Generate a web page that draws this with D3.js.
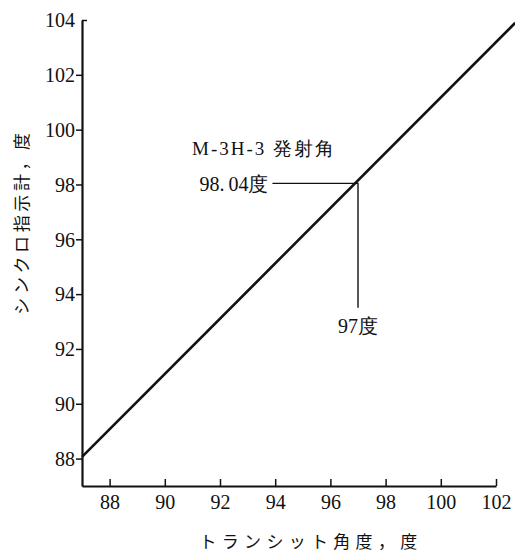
<!DOCTYPE html>
<html lang="ja">
<head>
<meta charset="utf-8">
<title>シンクロ指示計</title>
<style>
  body { margin: 0; background: #fff; }
  svg { display: block; }
</style>
</head>
<body>
<svg width="515" height="555"></svg>

<script src="https://cdn.jsdelivr.net/npm/d3@7/dist/d3.min.js"></script>
<script>
// values
var xTicks = [88, 90, 92, 94, 96, 98, 100, 102];
var yTicks = [88, 90, 92, 94, 96, 98, 100, 102, 104];
var lineX = [87, 102.7];      // transit angle, deg
var lineY = [88.06, 103.9];   // synchro reading, deg
var markX = [97];
var markY = [98.04];
var leaderFromX = [93.9];     // where the horizontal leader starts
var leaderToY = [93.5];       // where the vertical leader stops

var serif = "Liberation Serif";
var cjk = "Noto Sans CJK JP";

var svg = d3.select("svg");

var x = d3.scaleLinear().domain([87, 102]).range([82, 496]);
var y = d3.scaleLinear().domain([87, 104]).range([486, 20]);

// x axis, ticks point up into the plot
var gx = svg.append("g")
    .attr("transform", "translate(0," + y(87) + ")")
    .call(d3.axisBottom(x).tickValues(xTicks).tickSize(-7).tickSizeOuter(0).tickPadding(9));

// y axis, ticks point out, except the top one
var gy = svg.append("g")
    .attr("transform", "translate(" + x(87) + ",0)")
    .call(d3.axisLeft(y).tickValues(yTicks).tickSize(6).tickSizeOuter(0).tickPadding(1));

gx.attr("font-family", serif).attr("font-size", 20);
gy.attr("font-family", serif).attr("font-size", 20);

gy.selectAll(".tick").filter(function(d) { return d == 104; })
    .select("line").attr("x2", 5);

svg.selectAll(".domain").attr("stroke", "#111").attr("stroke-width", 2.2);
svg.selectAll(".tick line").attr("stroke", "#111").attr("stroke-width", 1.5);
svg.selectAll(".tick text").attr("fill", "#111");
gy.selectAll(".tick text").attr("dy", "0.34em");

// main calibration line
var pts = lineX.map(function(v, i) { return [v, lineY[i]]; });
svg.append("path")
    .datum(pts)
    .attr("fill", "none")
    .attr("stroke", "#111")
    .attr("stroke-width", 2.6)
    .attr("d", d3.line().x(function(d) { return x(d[0]); }).y(function(d) { return y(d[1]); }));

// launch-angle annotation
var mx = x(markX[0]), my = y(markY[0]);
svg.append("path")
    .attr("fill", "none")
    .attr("stroke", "#111")
    .attr("stroke-width", 1.4)
    .attr("d", "M" + x(leaderFromX[0]) + "," + my + "H" + mx + "V" + y(leaderToY[0]));

var notes = svg.append("g")
    .attr("font-family", serif)
    .attr("font-size", 20)
    .attr("fill", "#111");

notes.append("text")
    .attr("x", x(leaderFromX[0]) - 4)
    .attr("y", my + 8)
    .attr("text-anchor", "end")
    .text("98.\u200904度");

notes.append("text")
    .attr("x", 192)
    .attr("y", 155)
    .attr("font-size", 19)
    .attr("letter-spacing", 2)
    .text("M-3H-3 発射角");

notes.append("text")
    .attr("x", mx)
    .attr("y", y(leaderToY[0]) + 25)
    .attr("text-anchor", "middle")
    .text("97度");

// axis titles
var titles = svg.append("g")
    .attr("font-family", cjk)
    .attr("font-size", 17)
    .attr("fill", "#111");

titles.append("text")
    .attr("x", (x(87) + x(102)) / 2 + 22)
    .attr("y", 548)
    .attr("text-anchor", "middle")
    .attr("letter-spacing", 5.3)
    .text("トランシット角度，度");

titles.append("text")
    .attr("transform", "translate(28," + 222 + ") rotate(-90)")
    .attr("text-anchor", "middle")
    .attr("letter-spacing", 3.6)
    .text("シンクロ指示計，度");
</script>
</body>
</html>
